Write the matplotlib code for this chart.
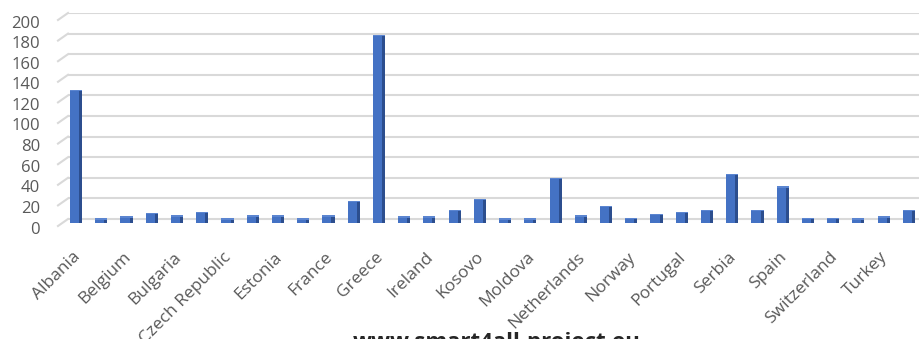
import matplotlib
matplotlib.use('Agg')
import matplotlib.pyplot as plt
from matplotlib.transforms import ScaledTranslation
from matplotlib.lines import Line2D
import numpy as np

countries = ["Albania", "Austria", "Belgium", "Bosnia and Herzegovina", "Bulgaria",
             "Croatia", "Czech Republic", "Denmark", "Estonia", "Finland", "France",
             "Germany", "Greece", "Hungary", "Ireland", "Italy", "Kosovo", "Lithuania",
             "Moldova", "Montenegro", "Netherlands", "North Macedonia", "Norway",
             "Poland", "Portugal", "Romania", "Serbia", "Slovenia", "Spain", "Sweden",
             "Switzerland", "Tunisia", "Turkey", "Ukraine"]
values = [125, 0, 2, 5, 3, 6, 0, 3, 3, 0, 3, 17, 178, 2, 2, 8, 19, 0, 0, 39, 3,
          12, 0.3, 4, 6.5, 8, 43, 8.5, 31, 0.6, 0.6, 0, 2, 8.5]
yticks = list(range(0, 201, 20))
watermark = "www.smart4all-project.eu"

W, H = 919, 339
fig = plt.figure(figsize=(W / 100, H / 100), dpi=100)
left_px, right_px = 68, 919
top_px, base_px = 13, 219
k = (base_px - top_px) / 200.0
ymin = -5
ax = fig.add_axes([left_px / W, 1 - (base_px - ymin * k) / H,
                   (right_px - left_px) / W, (base_px - ymin * k - top_px) / H])
ax.set_ylim(ymin, 200)
x = np.arange(len(countries))
ax.set_xlim(-0.32, len(countries) - 1 + 0.4)
for s in ax.spines.values():
    s.set_visible(False)
ax.set_yticks(yticks)
ax.set_yticklabels([])
ax.set_xticks([])
ax.grid(axis='y', color='#d9d9d9', lw=1.5)
ax.set_axisbelow(True)
ax.tick_params(length=0)

# perspective stubs of gridlines at the left
for v in yticks:
    ypx = base_px - v * k
    fig.add_artist(Line2D([58 / W, 68 / W], [1 - (ypx + 7) / H, 1 - ypx / H],
                          color='#d9d9d9', lw=1.5))

# y labels (aligned with front plane)
off = ScaledTranslation(-0.28, -0.105, fig.dpi_scale_trans)
for v in yticks:
    ax.text(0, v, str(v), transform=ax.get_yaxis_transform() + off,
            ha='right', va='center', fontsize=12, color='#595959', family='Open Sans')

vals = np.array(values, dtype=float)
base = -3.5
ax.bar(x - 0.06, vals - base, bottom=base, width=0.36, color='#4472c4', zorder=3)
ax.bar(x + 0.18, vals - base, bottom=base, width=0.12, color='#2c4e8e', zorder=3)
ax.bar(x, 1.2, bottom=vals - 0.6, width=0.48, color='#5b85d0', zorder=4)

# x labels (every other category, rotated)
xoff = ScaledTranslation(-0.04, -0.25, fig.dpi_scale_trans)
for xi, name in zip(x[::2], countries[::2]):
    ax.text(xi, 0, name, transform=ax.get_xaxis_transform() + xoff,
            rotation=45, ha='right', va='top', rotation_mode='anchor',
            fontsize=12.5, color='#595959', family='Open Sans')

fig.text(497 / W, 1 - 348 / H, watermark, ha='center', va='baseline',
         fontsize=16, fontweight='bold', color='#262626', family='Open Sans')

fig.savefig('out.png', dpi=100)
